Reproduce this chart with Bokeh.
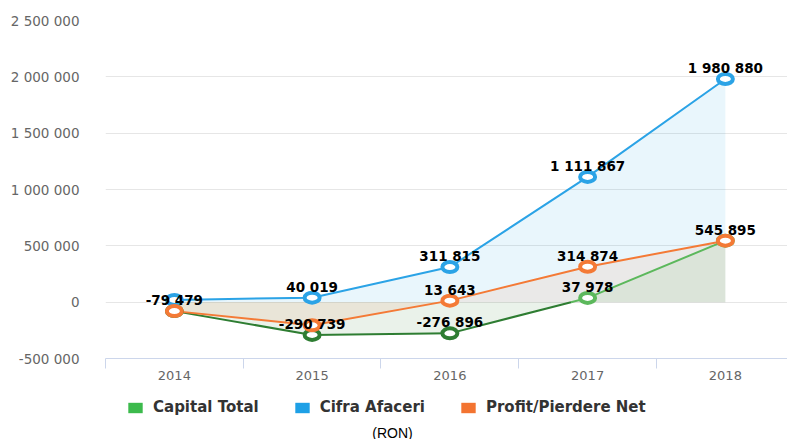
import numpy as np
from bokeh.plotting import figure
from bokeh.layouts import column
from bokeh.models import (ColumnDataSource, Range1d, FixedTicker, Legend, LegendItem, Label)
from bokeh.core.properties import value
from bokeh.embed import file_html
from bokeh.resources import INLINE

# ---------------- data ----------------
years = ["2014", "2015", "2016", "2017", "2018"]
capital_total = [-79479, -290739, -276896, 37978, 545895]
cifra_afaceri = [20000, 40019, 311815, 1111867, 1980880]
profit_net = [-79479, -205000, 13643, 314874, 545895]

# which data labels are visible (others hidden by overlap in the original)
show_capital = [False, True, True, True, False]
show_cifra = [False, True, True, True, True]
show_profit = [True, False, True, True, True]

y_ticks = [-500000, 0, 500000, 1000000, 1500000, 2000000, 2500000]
series_names = ["Capital Total", "Cifra Afaceri", "Profit/Pierdere Net"]
unit_note = "(RON)"

# ---------------- style ----------------
BLUE = "#2ba3e6"
ORANGE = "#f47a36"
GREEN_POS = "#5cb85c"
GREEN_NEG = "#2e7d32"
LEG_GREEN = "#3cba4c"
LEG_BLUE = "#1ea0e6"
LEG_ORANGE = "#f37431"
AXIS_COL = "#ccd6eb"
FILL_ALPHA = 0.1


def fmt(v):
    return f"{v:,}".replace(",", " ")


xi = list(range(len(years)))

p = figure(width=787, height=390, output_backend="svg", toolbar_location=None,
           x_range=Range1d(-0.5, 4.451), y_range=Range1d(-500000, 2500000),
           min_border_left=105, min_border_right=0, min_border_top=20, min_border_bottom=32)
p.outline_line_color = None
p.background_fill_color = "white"
p.border_fill_color = "white"

# grids
p.xgrid.grid_line_color = None
p.ygrid.grid_line_color = "#e6e6e6"
p.ygrid.ticker = FixedTicker(ticks=y_ticks)

# y axis
p.yaxis.ticker = FixedTicker(ticks=y_ticks)
p.yaxis.major_label_overrides = {t: fmt(t) for t in y_ticks}
p.yaxis.axis_line_color = None
p.yaxis.major_tick_line_color = None
p.yaxis.minor_tick_line_color = None
p.yaxis.major_label_standoff = 20
p.yaxis.major_label_text_font = "DejaVu Sans"
p.yaxis.major_label_text_font_size = "13.5px"
p.yaxis.major_label_text_color = "#666666"

# x axis
p.xaxis.ticker = FixedTicker(ticks=xi, minor_ticks=[i - 0.5 for i in range(len(years) + 1)])
p.xaxis.major_label_overrides = {i: y for i, y in enumerate(years)}
p.xaxis.axis_line_color = AXIS_COL
p.xaxis.major_tick_line_color = None
p.xaxis.major_tick_out = 0
p.xaxis.major_tick_in = 0
p.xaxis.minor_tick_line_color = AXIS_COL
p.xaxis.minor_tick_in = 0
p.xaxis.minor_tick_out = 10
p.xaxis.major_label_standoff = 2
p.xaxis.major_label_text_font = "DejaVu Sans"
p.xaxis.major_label_text_font_size = "13px"
p.xaxis.major_label_text_color = "#666666"

# ---------------- green (capital) split at zero ----------------
gx, gy = [], []
for i in range(len(capital_total)):
    gx.append(i)
    gy.append(capital_total[i])
    if i < len(capital_total) - 1 and capital_total[i] * capital_total[i + 1] < 0:
        t = capital_total[i] / (capital_total[i] - capital_total[i + 1])
        gx.append(i + t)
        gy.append(0)
gx = np.array(gx, dtype=float)
gy = np.array(gy, dtype=float)
g_neg = np.where(gy <= 0, gy, np.nan)
g_pos = np.where(gy >= 0, gy, np.nan)

# ---------------- fills ----------------
p.varea(x=xi, y1=cifra_afaceri, y2=0, fill_color=BLUE, fill_alpha=FILL_ALPHA)
p.varea(x=xi, y1=profit_net, y2=0, fill_color=ORANGE, fill_alpha=FILL_ALPHA)
p.varea(x=gx, y1=np.minimum(gy, 0), y2=0, fill_color=GREEN_NEG, fill_alpha=FILL_ALPHA)
p.varea(x=gx, y1=np.maximum(gy, 0), y2=0, fill_color=GREEN_POS, fill_alpha=FILL_ALPHA)

# ---------------- lines ----------------
p.line(gx, g_neg, line_color=GREEN_NEG, line_width=2)
p.line(gx, g_pos, line_color=GREEN_POS, line_width=2)
p.line(xi, cifra_afaceri, line_color=BLUE, line_width=2)
p.line(xi, profit_net, line_color=ORANGE, line_width=2)

# ---------------- markers ----------------
g_cols = [GREEN_NEG if v < 0 else GREEN_POS for v in capital_total]
for vals, col in ((capital_total, g_cols), (cifra_afaceri, BLUE), (profit_net, ORANGE)):
    p.ellipse(x=xi, y=vals, width=15, height=10, width_units="screen", height_units="screen",
              fill_color="white", line_color=col, line_width=4)

# ---------------- data labels ----------------
lx, ly, lt = [], [], []
for vals, show in ((capital_total, show_capital), (cifra_afaceri, show_cifra), (profit_net, show_profit)):
    for i, (v, s) in enumerate(zip(vals, show)):
        if s:
            lx.append(i)
            ly.append(v)
            lt.append(fmt(v))
lsrc = ColumnDataSource(data=dict(x=lx, y=ly, t=lt))
p.text(x="x", y="y", text="t", source=lsrc, text_align="center", text_baseline="alphabetic",
       y_offset=-11, text_font=value("DejaVu Sans"), text_font_style="bold",
       text_font_size="13.5px", text_color="#000000")

# ---------------- legend strip (frame aligned with the chart frame) ----------------
q = figure(width=787, height=49, output_backend="svg", toolbar_location=None,
           x_range=Range1d(105, 787), y_range=Range1d(0, 49),
           x_axis_location=None, y_axis_location=None,
           min_border_left=105, min_border_right=0, min_border_top=0, min_border_bottom=0)
q.outline_line_color = None
q.xgrid.visible = False
q.ygrid.visible = False
q.background_fill_color = "white"
q.border_fill_color = "white"

items = []
for name, col in zip(series_names, (LEG_GREEN, LEG_BLUE, LEG_ORANGE)):
    # legend proxy renderer (not drawn: NaN position)
    r = q.rect(x=[np.nan], y=[np.nan], width=1, height=1, fill_color=col, line_color=None)
    items.append(LegendItem(label=name, renderers=[r]))
legend = Legend(items=items, orientation="horizontal", location=(21, 23),
                glyph_width=18, glyph_height=13, label_standoff=9, spacing=34,
                padding=4, margin=0, border_line_color=None, background_fill_alpha=0,
                label_text_font="DejaVu Sans", label_text_font_style="bold",
                label_text_font_size="15px", label_text_color="#333333")
q.add_layout(legend, "center")

q.add_layout(Label(x=392, y=7, text=unit_note, text_align="center", text_baseline="middle",
                   text_font="Liberation Sans", text_font_size="14px", text_color="#000000"))

open("out.html", "w").write(file_html(column(p, q, spacing=0), INLINE))
